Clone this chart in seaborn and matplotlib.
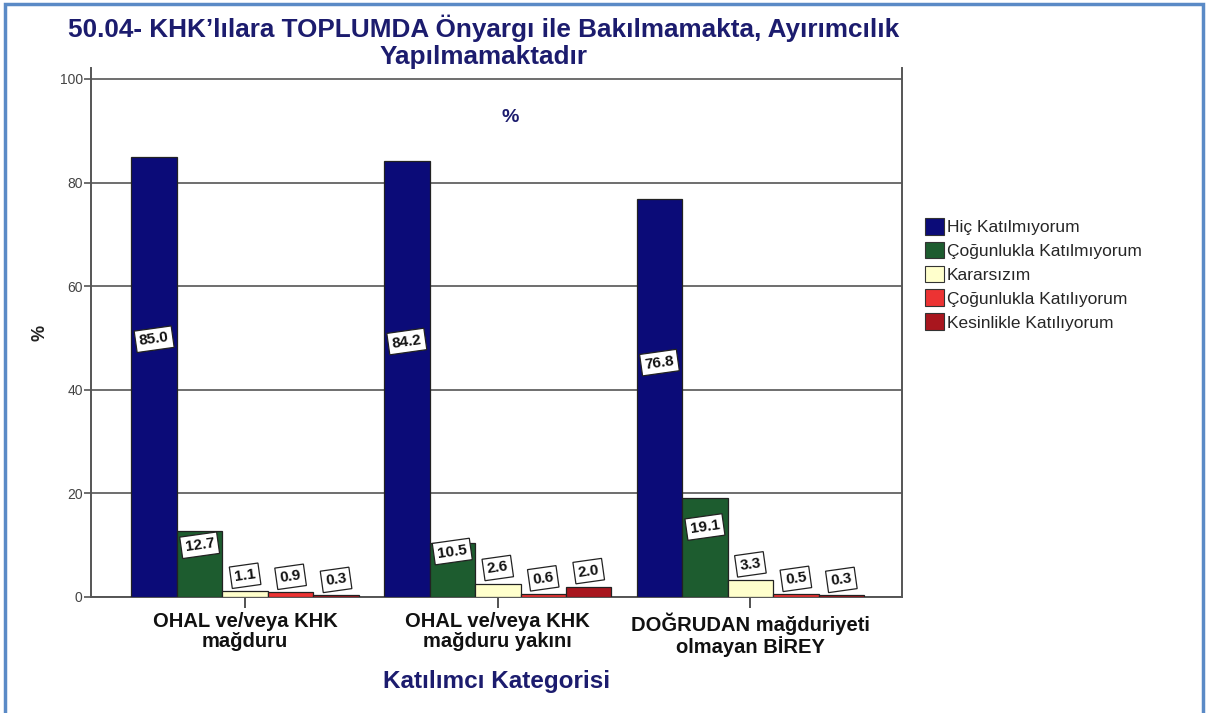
import matplotlib
matplotlib.use("Agg")
import matplotlib.pyplot as plt
import seaborn as sns
import pandas as pd
from matplotlib.patches import Rectangle, Patch

# --- data ---------------------------------------------------------------
categories = ["OHAL ve/veya KHK\nmağduru",
              "OHAL ve/veya KHK\nmağduru yakını",
              "DOĞRUDAN mağduriyeti\nolmayan BİREY"]
responses = ["Hiç Katılmıyorum", "Çoğunlukla Katılmıyorum", "Kararsızım",
             "Çoğunlukla Katılıyorum", "Kesinlikle Katılıyorum"]
hic_katilmiyorum = [85.0, 84.2, 76.8]
cogunlukla_katilmiyorum = [12.7, 10.5, 19.1]
kararsizim = [1.1, 2.6, 3.3]
cogunlukla_katiliyorum = [0.9, 0.6, 0.5]
kesinlikle_katiliyorum = [0.3, 2.0, 0.3]
y_ticks = [0, 20, 40, 60, 80, 100]

series = [hic_katilmiyorum, cogunlukla_katilmiyorum, kararsizim,
          cogunlukla_katiliyorum, kesinlikle_katiliyorum]
colors = ["#0b0b78", "#1d5c2f", "#ffffcc", "#ec3333", "#a8161e"]
navy = "#1c1c6e"

rows = []
for resp, vals in zip(responses, series):
    for cat, v in zip(categories, vals):
        rows.append({"Kategori": cat, "Yanıt": resp, "Yüzde": v})
df = pd.DataFrame(rows)

# --- style --------------------------------------------------------------
sns.set_theme(style="white")
plt.rcParams["font.family"] = ["Liberation Sans", "DejaVu Sans"]

fig = plt.figure(figsize=(12.06, 7.13), dpi=100)
ax = fig.add_axes([91 / 1206, 1 - 597 / 713, (902 - 91) / 1206, (597 - 68) / 713])

sns.barplot(data=df, x="Kategori", y="Yüzde", hue="Yanıt",
            order=categories, hue_order=responses, palette=colors,
            width=0.9, edgecolor="#222222", linewidth=0.9,
            saturation=1, errorbar=None, legend=False, ax=ax, zorder=3)

ax.set_xlim(-0.61, 2.60)
ax.set_ylim(0, 102.1)
ax.set_yticks(y_ticks)
ax.set_yticklabels([str(t) for t in y_ticks], fontsize=10, color="#444444")
ax.yaxis.grid(True, color="#555555", linewidth=1.2, zorder=0)
ax.set_axisbelow(True)
ax.tick_params(axis="y", length=5, width=1.2, color="#555555", left=True, pad=1)
ax.tick_params(axis="x", length=8, width=1.2, color="#333333", bottom=True,
               direction="out", pad=3)
ax.set_xticklabels(categories, fontsize=14.5, fontweight="bold", color="#111111",
                   linespacing=1.05)
for side in ["left", "right", "bottom"]:
    ax.spines[side].set_visible(True)
    ax.spines[side].set_color("#555555")
    ax.spines[side].set_linewidth(1.4)
ax.spines["top"].set_visible(False)

ax.set_xlabel("Katılımcı Kategorisi", fontsize=17.5, fontweight="bold",
              color=navy, labelpad=10)
ax.set_ylabel("%", fontsize=13, fontweight="bold", color="#222222", labelpad=8)

ax.text(0.517, 0.907, "%", transform=ax.transAxes, ha="center", va="center",
        fontsize=14, fontweight="bold", color=navy)

# value labels on the bars
for container, vals in zip(ax.containers, series):
    for bar, v in zip(container.patches, vals):
        cx = bar.get_x() + bar.get_width() / 2
        ly = v * 0.55 + 3 if v >= 10 else v + 3
        ax.text(cx, ly, f"{v:.1f}", ha="center", va="center", rotation=8,
                fontsize=11, fontweight="bold", color="#111111", zorder=5,
                bbox=dict(boxstyle="square,pad=0.25", facecolor="white",
                          edgecolor="#222222", linewidth=0.9))

# legend
handles = [Patch(facecolor=c, edgecolor="#333333", linewidth=0.8) for c in colors]
fig.legend(handles, responses, loc="upper left",
           bbox_to_anchor=(918 / 1206, 1 - 211 / 713), frameon=False,
           fontsize=12.5, handlelength=1.1, handleheight=1.1,
           handletextpad=0.15, labelspacing=0.38, borderaxespad=0)

# title
fig.text(484 / 1206, 1 - 28 / 713, "50.04- KHK’lılara TOPLUMDA Önyargı ile Bakılmamakta, Ayırımcılık",
         ha="center", va="center", fontsize=18.8, fontweight="bold", color=navy)
fig.text(484 / 1206, 1 - 57 / 713, "Yapılmamaktadır",
         ha="center", va="center", fontsize=18.8, fontweight="bold", color=navy)

# outer frame
fig.add_artist(Rectangle((5 / 1206, -0.05), (1203 - 5) / 1206, 1.05 - 4 / 713,
                         transform=fig.transFigure, fill=False,
                         edgecolor="#5a8ac6", linewidth=2.5))

fig.savefig("out.png", dpi=100, facecolor="white")
